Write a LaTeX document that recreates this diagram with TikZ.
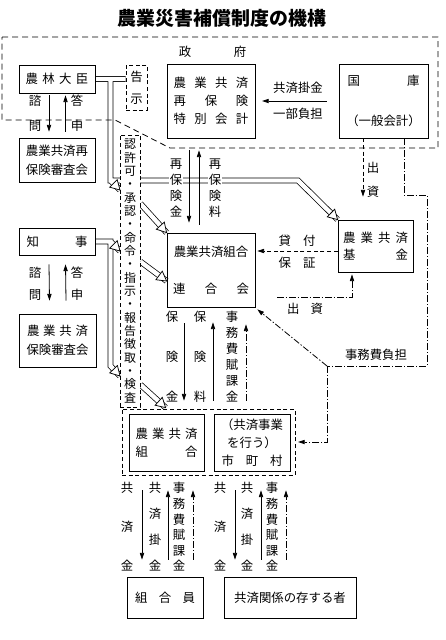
\documentclass[tikz,border=0pt]{standalone}
\usepackage{fontspec}
\setmainfont{Noto Sans CJK JP}
\usetikzlibrary{arrows.meta,calc,backgrounds}
\newcommand{\sprd}[2]{\makebox[#1]{#2}}
\newcommand{\htip}[2]{%
  \path (#2) coordinate (htT) ($(#2)!7pt!(#1)$) coordinate (htB);
  \filldraw[fill=white,line width=0.55pt] (htT) -- ($(htB)!4pt!90:(htT)$) -- ($(htB)!4pt!-90:(htT)$) -- cycle;}
\begin{document}
\begin{tikzpicture}[x=0.75pt,y=-0.75pt,font=\fontsize{9.3pt}{11pt}\selectfont,
  box/.style={draw,line width=0.6pt,inner sep=0pt,align=center},
  dbox/.style={box,dash pattern=on 3pt off 2pt},
  lbl/.style={inner sep=0pt,align=center},
  vt/.style={inner sep=0pt,align=center,font=\fontsize{9.3pt}{#1}\selectfont},
  arr/.style={line width=0.6pt,-{Triangle[length=5pt,width=3.2pt]}},
  dsh/.style={dash pattern=on 3pt off 2pt},
  dd/.style={dash pattern=on 5pt off 1.5pt on 1pt off 1.5pt},
  band/.style={double,double distance=3.3pt,line width=0.55pt},
  govl/.style={line width=0.6pt,dash pattern=on 4.5pt off 3pt}]
\useasboundingbox (0,0) rectangle (446,640);

\node[font=\fontsize{14.2pt}{16pt}\selectfont\bfseries] (title) at (222,18) {農業災害補償制度の機構};

\draw[govl] (2,37) -- (438,37) -- (438,148) -- (170,148) -- (115,120) -- (2,120) -- cycle;

% boxes
\node[box,minimum width=57pt,minimum height=21pt] (nourin) at (57,79) {\sprd{47pt}{農\hfill 林\hfill 大\hfill 臣}};
\node[dbox,minimum width=15.75pt,minimum height=33.75pt,font=\fontsize{9.3pt}{16.5pt}\selectfont] (kokuji) at (136.5,87.5) {告\\示};
\node[lbl] (seifu) at (212.5,52) {\sprd{50.6pt}{政\hfill 府}};
\node[box,minimum width=66pt,minimum height=55.5pt,font=\fontsize{9.3pt}{13.5pt}\selectfont] (tokubetsu) at (211,101)
  {\sprd{56pt}{農\hfill 業\hfill 共\hfill 済}\\\sprd{56pt}{再\hfill 保\hfill 険}\\\sprd{56pt}{特\hfill 別\hfill 会\hfill 計}};
\node[box,minimum width=66.75pt,minimum height=55.5pt] (kokko) at (383.5,101) {\sprd{54pt}{国\hfill 庫}\\[19pt]（一般会計）};
\node[lbl] (kakekin) at (298,88) {共済掛金};
\node[lbl] (ichibu) at (298,114) {一部負担};
\node[box,minimum width=57pt,minimum height=33pt,font=\fontsize{9.3pt}{14.25pt}\selectfont] (saishinsa) at (57,160) {農業共済再\\保険審査会};
\node[vt=18.75pt] (shimon1) at (35,113) {諮\\問};
\node[vt=18.75pt] (toshin1) at (77,113) {答\\申};
\node[box,minimum width=57pt,minimum height=20.25pt] (chiji) at (57,241.5) {\sprd{45.75pt}{知\hfill 事}};
\node[vt=16.5pt] (shimon2) at (35,284) {諮\\問};
\node[vt=16.5pt] (toshin2) at (77,284) {答\\申};
\node[box,minimum width=57.75pt,minimum height=39.75pt,font=\fontsize{9.3pt}{14.25pt}\selectfont] (hokenshinsa) at (57.5,340.5)
  {\sprd{45.75pt}{農\hfill 業\hfill 共\hfill 済}\\保険審査会};
\node[dbox,fill=white,minimum width=15pt,minimum height=204pt,font=\fontsize{9pt}{10pt}\selectfont] (ninka) at (130,271)
  {認\\許\\可\\・\\承\\認\\・\\命\\令\\・\\指\\示\\・\\報\\告\\徴\\取\\・\\検\\査};
\node[box,minimum width=66pt,minimum height=55.5pt,font=\fontsize{9.3pt}{27.75pt}\selectfont] (rengo) at (211,270)
  {農業共済組合\\\sprd{57pt}{連\hfill 合\hfill 会}};
\node[box,minimum width=56.25pt,minimum height=39pt,font=\fontsize{9.3pt}{12.75pt}\selectfont] (kikin) at (375.5,246)
  {\sprd{48.75pt}{農\hfill 業\hfill 共\hfill 済}\\\sprd{48.75pt}{基\hfill 金}};
\node[dbox,minimum width=129.75pt,minimum height=49.5pt] (outer) at (208.5,442) {};
\node[box,minimum width=56.25pt,minimum height=42.75pt,font=\fontsize{9.3pt}{13.5pt}\selectfont] (kumiai) at (166.5,442.5)
  {\sprd{46.5pt}{農\hfill 業\hfill 共\hfill 済}\\\sprd{46.5pt}{組\hfill 合}};
\node[box,minimum width=57pt,minimum height=42.75pt,font=\fontsize{9.3pt}{13.5pt}\selectfont] (shichoson) at (252,442.5)
  {（共済事業\\を行う）\\\sprd{45.75pt}{市\hfill 町\hfill 村}};
\node[box,minimum width=57pt,minimum height=30.75pt] (kumiaiin) at (165,597.5) {\sprd{45pt}{組\hfill 合\hfill 員}};
\node[box,minimum width=99pt,minimum height=30.75pt] (kankei) at (290,597.5) {共済関係の存する者};

% hollow bands
\coordinate (r1s) at ($(ninka.north east)+(0,69)$);
\coordinate (r2s) at ($(ninka.north east)+(0,127)$);
\coordinate (r3s) at ($(ninka.north east)+(0,250)$);
\coordinate (r2e) at ($(rengo.west)+(0,11)$);
\coordinate (r3e) at ($(outer.north west)+(44,-1)$);
\coordinate (aj) at (110.5,180.5);
\coordinate (ak) at (298,180.5);
\coordinate (bj) at (110.5,241.5);
\coordinate (bk) at (110.5,366);
\begin{scope}[on background layer]
\draw[band] (nourin.east) -- (kokuji.west |- nourin.east)
  (110.5,79) -- (aj) -- (ak) -- (kikin.north west)
  (aj) -- (120,190);
\draw[band] (chiji.east) -- (bj) -- (bk) -- (120,376)
  (bj) -- (120,251);
\draw[band] (r1s) -- (rengo.north west);
\draw[band] (r2s) -- (r2e);
\draw[band] (r3s) -- (r3e);
\end{scope}
\htip{aj}{120,190}
\htip{bj}{120,251}
\htip{bk}{120,376}
\htip{ak}{kikin.north west}
\htip{r1s}{rengo.north west}
\htip{r2s}{r2e}
\htip{r3s}{r3e}

% arrows top
\draw[arr,shorten <=9pt,shorten >=5pt] (kokko.west) -- (tokubetsu.east);
\draw[arr] ($(nourin.south)+(-8,2)$) -- ($(saishinsa.north)+(-8,-6)$);
\draw[arr] ($(saishinsa.north)+(8.5,-6)$) -- ($(nourin.south)+(8.5,2)$);
\draw[arr] ($(chiji.south)+(-8,9)$) -- ($(hokenshinsa.north)+(-8,-13)$);
\draw[arr] ($(hokenshinsa.north)+(8.5,-13)$) -- ($(chiji.south)+(8.5,9)$);

% reinsurance
\draw[arr] ($(tokubetsu.south)+(-22,12)$) -- ($(rengo.north)+(-22,-10)$);
\draw[arr] ($(rengo.north)+(-12,-8)$) -- ($(tokubetsu.south)+(-12,12)$);
\node[vt=12pt,fill=white,inner sep=0.5pt] (saihokenkin) at (176,188) {再\\保\\険\\金};
\node[vt=12pt,fill=white,inner sep=0.5pt] (saihokenryo) at (215,188) {再\\保\\険\\料};

% fund
\draw[arr,dsh] ($(kikin.west)+(0,5)$) -- ($(rengo.east)+(2,-19)$);
\node[lbl] (kashitsuke) at (297,241) {\sprd{27.75pt}{貸\hfill 付}};
\node[lbl] (hosho) at (297,263) {\sprd{27.75pt}{保\hfill 証}};
\coordinate (shusshi0) at (277,297);
\draw[arr,dd] (shusshi0) -| ($(kikin.south)+(-23.5,2)$);
\node[lbl] (shusshi1) at (305,309) {\sprd{27pt}{出\hfill 資}};
\draw[arr,dsh] ($(kokko.south)+(-20.5,0)$) -- ($(kikin.north)+(-12.5,-23)$);
\node[vt=18pt] (shusshi2) at (373,180) {出\\資};

% administrative cost
\draw[dd] ($(kokko.south)+(20.5,0)$) -- ++(0,57) -| (427,366) -- (327,366) coordinate (jm);
\draw[arr,dd] (jm) -- ($(rengo.south east)+(2,2)$);
\draw[arr,dd,shorten >=2pt] (jm) |- (outer.east);
\node[lbl] (jimuhi) at (376,355) {事務費負担};

% rengo <-> kumiai
\draw[arr] ($(rengo.south)+(-27,16)$) -- ($(outer.north)+(-24.5,-8)$);
\draw[arr] ($(outer.north)+(4.5,-8)$) -- ($(rengo.south)+(2,15)$);
\draw[arr,dd] ($(outer.north)+(37.5,-8)$) -- ($(rengo.south)+(35,17)$);
\node[vt=30pt] (hokenkin) at (172,357) {保\\険\\金};
\node[vt=30pt] (hokenryo) at (200,357) {保\\険\\料};
\node[vt=12pt] (fukakin1) at (232,357) {事\\務\\費\\賦\\課\\金};

% bottom
\draw[arr] ($(outer.south)+(-66.5,15)$) -- ($(kumiaiin.north)+(-23,-17)$);
\draw[arr] ($(kumiaiin.north)+(3,-17)$) -- ($(outer.south)+(-40.5,15)$);
\draw[arr,dd] ($(kumiaiin.north)+(28,-17)$) -- ($(outer.south)+(-15.5,15)$);
\draw[arr] ($(outer.south)+(26.5,15)$) -- ($(kankei.north)+(-55,-17)$);
\draw[arr] ($(kankei.north)+(-29,-17)$) -- ($(outer.south)+(52.5,15)$);
\draw[arr,dd] ($(kankei.north)+(-4,-17)$) -- ($(outer.south)+(77.5,15)$);
\node[vt=29.25pt] (kyosaikin1) at (127,527) {共\\済\\金};
\node[vt=19.5pt] (kakekin1) at (155,527) {共\\済\\掛\\金};
\node[vt=11.7pt] (fukakin2) at (179,527) {事\\務\\費\\賦\\課\\金};
\node[vt=29.25pt] (kyosaikin2) at (220,527) {共\\済\\金};
\node[vt=19.5pt] (kakekin2) at (247,527) {共\\済\\掛\\金};
\node[vt=11.7pt] (fukakin3) at (272,527) {事\\務\\費\\賦\\課\\金};
\end{tikzpicture}
\end{document}
